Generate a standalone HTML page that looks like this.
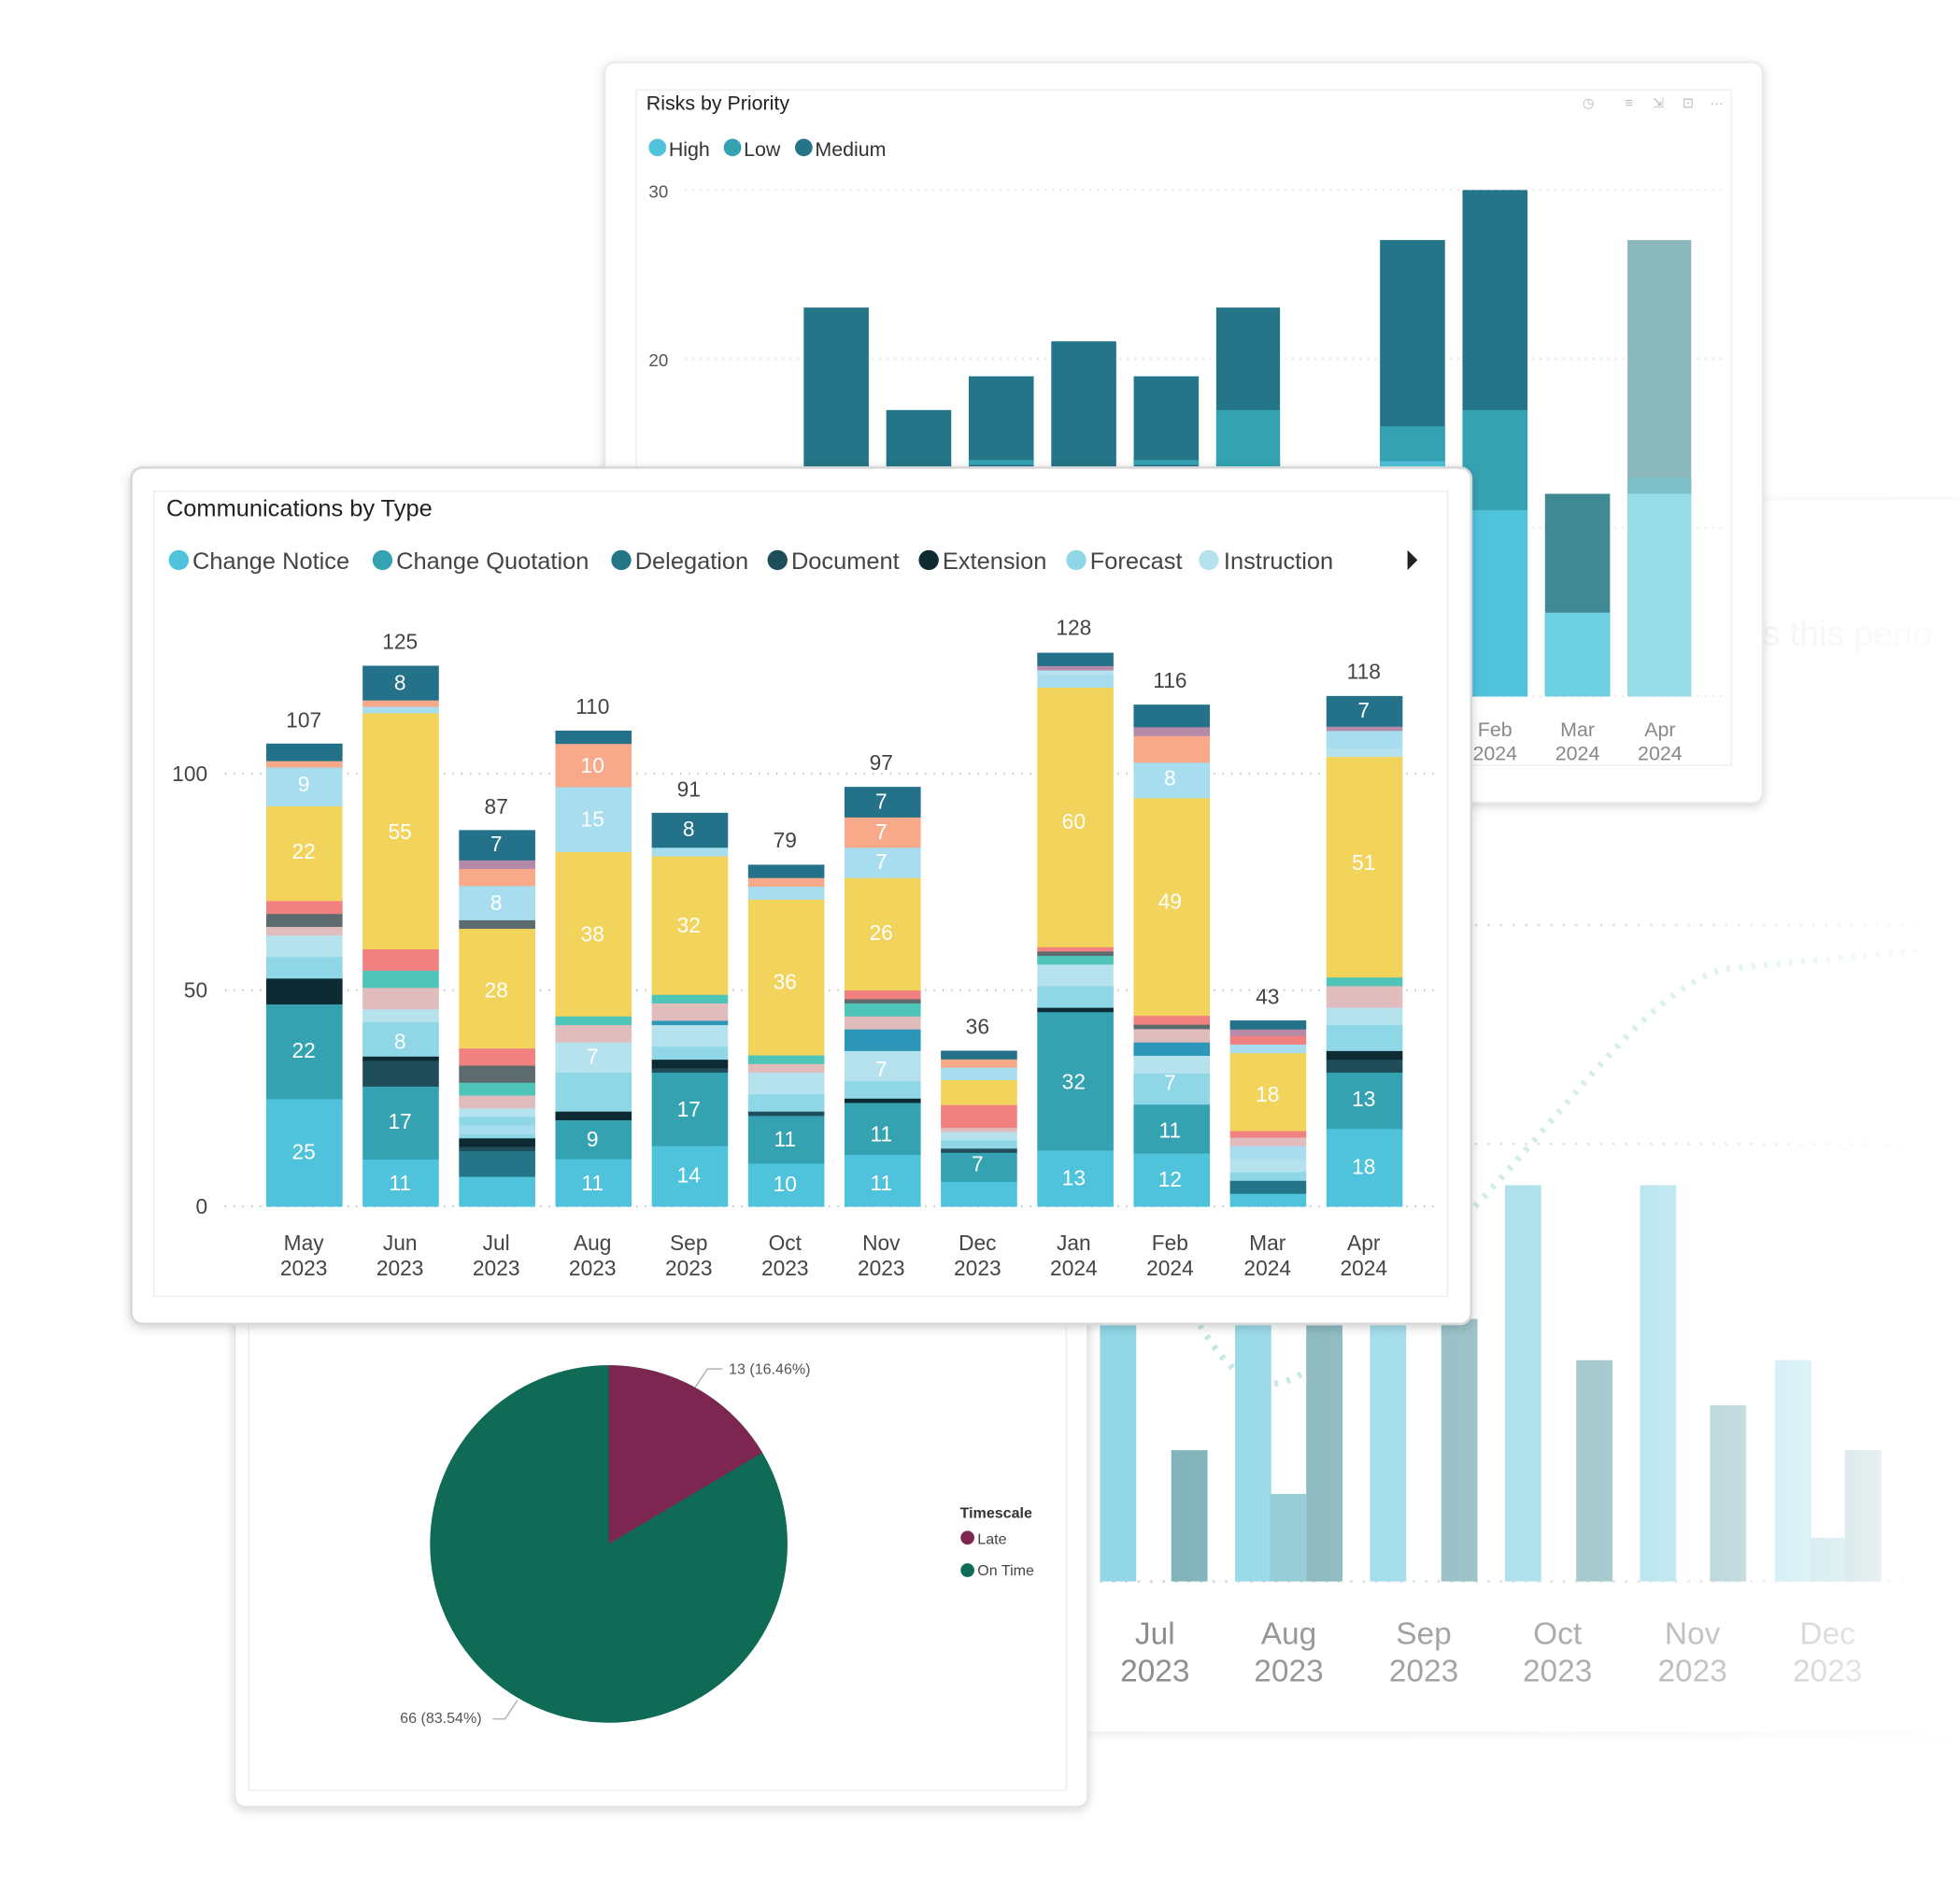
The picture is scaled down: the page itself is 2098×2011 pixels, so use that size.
<!DOCTYPE html>
<html><head><meta charset="utf-8"><style>
html,body{margin:0;padding:0;background:#fff;width:2098px;height:2011px;overflow:hidden}
svg{display:block}
text{font-family:"Liberation Sans",sans-serif}
</style></head><body>
<svg id="s" width="2098" height="2011" viewBox="0 0 1568 1503" xmlns="http://www.w3.org/2000/svg">
<defs>
<filter id="sh" x="-5%" y="-5%" width="110%" height="110%"><feDropShadow dx="0" dy="2" stdDeviation="4" flood-color="#000" flood-opacity="0.18"/></filter>
<linearGradient id="fade" x1="0" x2="1" y1="0" y2="0"><stop offset="0" stop-color="#fff" stop-opacity="0"/><stop offset="0.6" stop-color="#fff" stop-opacity="0.35"/><stop offset="1" stop-color="#fff" stop-opacity="0.95"/></linearGradient>
</defs>

<!-- faded lower-right chart -->
<g id="bg">
<rect x="870" y="400" width="700" height="985" fill="#fff" filter="url(#sh)" opacity="0.5"/>
<text x="1410" y="516" font-size="28" fill="#e4e4e4">s this perio</text>
<g stroke="#cfd6d8" stroke-dasharray="2 8" stroke-width="2">
<line x1="1180" y1="740" x2="1540" y2="740"/><line x1="1180" y1="915" x2="1540" y2="915"/><line x1="880" y1="1265" x2="1540" y2="1265"/>
</g>
<path d="M1180 965 C1260 880 1320 790 1380 775 L1540 760" stroke="#bfe6e2" stroke-width="5" stroke-dasharray="3 7" fill="none"/>
<path d="M960 1060 C990 1110 1020 1130 1075 1070" stroke="#bfe6e2" stroke-width="5" stroke-dasharray="3 7" fill="none"/>
<g>
<rect x="880" y="1060" width="29" height="205" fill="#8fd6e6"/>
<rect x="937" y="1160" width="29" height="105" fill="#7aafb6"/>
<rect x="988" y="1060" width="29" height="205" fill="#8fd6e6"/>
<rect x="1016" y="1195" width="29" height="70" fill="#86c6d0"/>
<rect x="1045" y="1060" width="29" height="205" fill="#7aafb6"/>
<rect x="1096" y="1060" width="29" height="205" fill="#8fd6e6"/>
<rect x="1153" y="1055" width="29" height="210" fill="#7aafb6"/>
<rect x="1204" y="948" width="29" height="317" fill="#8fd6e6"/>
<rect x="1261" y="1088" width="29" height="177" fill="#7aafb6"/>
<rect x="1312" y="948" width="29" height="317" fill="#8fd6e6"/>
<rect x="1368" y="1124" width="29" height="141" fill="#7aafb6"/>
<rect x="1420" y="1088" width="29" height="177" fill="#8fd6e6"/>
<rect x="1448" y="1230" width="29" height="35" fill="#86c6d0"/>
<rect x="1476" y="1160" width="29" height="105" fill="#7aafb6"/>
</g>
<g font-size="25" fill="#888" text-anchor="middle">
<text x="924" y="1315">Jul</text><text x="924" y="1345">2023</text>
<text x="1031" y="1315">Aug</text><text x="1031" y="1345">2023</text>
<text x="1139" y="1315">Sep</text><text x="1139" y="1345">2023</text>
<text x="1246" y="1315">Oct</text><text x="1246" y="1345">2023</text>
<text x="1354" y="1315">Nov</text><text x="1354" y="1345">2023</text>
<text x="1462" y="1315">Dec</text><text x="1462" y="1345">2023</text>
</g>
<rect x="870" y="400" width="700" height="1000" fill="url(#fade)"/>
</g>

<!-- Risks card -->
<rect x="484" y="50" width="926" height="592" rx="8" fill="#fff" stroke="#e6e6e6" filter="url(#sh)"/>
<rect x="509" y="72" width="876" height="540" fill="none" stroke="#eeeeee"/>
<text x="517" y="88" font-size="16" fill="#222">Risks by Priority</text>
<g font-size="11" fill="#bbb"><text x="1266" y="86">◷</text><text x="1300" y="86">≡</text><text x="1322" y="86">⇲</text><text x="1346" y="86">⊡</text><text x="1368" y="86">···</text></g>
<circle cx="526" cy="118" r="7" fill="#4fc3dc"/><text x="535" y="125" font-size="16" fill="#333">High</text>
<circle cx="586" cy="118" r="7" fill="#35a2b2"/><text x="595" y="125" font-size="16" fill="#333">Low</text>
<circle cx="643" cy="118" r="7" fill="#247587"/><text x="652" y="125" font-size="16" fill="#333">Medium</text>
<g stroke="#ccc" stroke-dasharray="1 5"><line x1="548" y1="152" x2="1380" y2="152"/><line x1="548" y1="287" x2="1380" y2="287"/><line x1="548" y1="422" x2="1380" y2="422"/><line x1="548" y1="557" x2="1380" y2="557"/></g>
<text x="519" y="158" font-size="14" fill="#555">30</text><text x="519" y="293" font-size="14" fill="#555">20</text>
<g>
<rect x="643" y="246" width="52" height="311" fill="#247587"/>
<rect x="709" y="328" width="52" height="229" fill="#247587"/>
<rect x="775" y="301" width="52" height="256" fill="#247587"/><rect x="775" y="368" width="52" height="4" fill="#35a2b2"/>
<rect x="841" y="273" width="52" height="284" fill="#247587"/>
<rect x="907" y="301" width="52" height="256" fill="#247587"/><rect x="907" y="368" width="52" height="4" fill="#35a2b2"/>
<rect x="973" y="246" width="51" height="311" fill="#247587"/><rect x="973" y="328" width="51" height="229" fill="#35a2b2"/>
<rect x="1104" y="192" width="52" height="365" fill="#247587"/><rect x="1104" y="341" width="52" height="216" fill="#35a2b2"/><rect x="1104" y="369" width="52" height="188" fill="#4fc3dc"/>
<rect x="1170" y="152" width="52" height="405" fill="#247587"/><rect x="1170" y="328" width="52" height="229" fill="#35a2b2"/><rect x="1170" y="408" width="52" height="149" fill="#4fc3dc"/>
<rect x="1236" y="395" width="52" height="162" fill="#3f8995"/><rect x="1236" y="490" width="52" height="67" fill="#6cd0e2"/>
<rect x="1302" y="192" width="51" height="365" fill="#8ab8bd"/><rect x="1302" y="382" width="51" height="13" fill="#7ebfc8"/><rect x="1302" y="395" width="51" height="162" fill="#96dde9"/>
</g>
<g font-size="16" fill="#888" text-anchor="middle">
<text x="1196" y="589">Feb</text><text x="1196" y="608">2024</text>
<text x="1262" y="589">Mar</text><text x="1262" y="608">2024</text>
<text x="1328" y="589">Apr</text><text x="1328" y="608">2024</text>
</g>

<!-- Pie card -->
<rect x="188" y="1040" width="682" height="405" rx="8" fill="#fff" stroke="#e0e0e0" filter="url(#sh)"/>
<rect x="199" y="1050" width="654" height="382" fill="none" stroke="#eeeeee"/>
<circle cx="487" cy="1235" r="143" fill="#0f6b55"/>
<path d="M487 1235 L487 1092 A143 143 0 0 1 609.9 1161.9 Z" fill="#7d2651"/>
<polyline points="556,1110 566,1095 578,1095" fill="none" stroke="#aaa"/>
<text x="583" y="1099" font-size="12" fill="#555">13 (16.46%)</text>
<polyline points="414,1360 404,1375 394,1375" fill="none" stroke="#aaa"/>
<text x="320" y="1378" font-size="12" fill="#555">66 (83.54%)</text>
<text x="768" y="1214" font-size="12" font-weight="bold" fill="#333">Timescale</text>
<circle cx="774" cy="1230" r="5.5" fill="#7d2651"/><text x="782" y="1235" font-size="12" fill="#444">Late</text>
<circle cx="774" cy="1256" r="5.5" fill="#0f6b55"/><text x="782" y="1260" font-size="12" fill="#444">On Time</text>

<!-- Main card -->
<rect x="105" y="374" width="1072" height="685" rx="9" fill="#fff" stroke="#d8d8d8" stroke-width="2" filter="url(#sh)"/>
<rect x="123" y="393" width="1035" height="644" fill="none" stroke="#ececec"/>
<text x="133" y="413" font-size="19" fill="#222">Communications by Type</text>
<g font-size="19" fill="#444">
<circle cx="143" cy="448" r="8" fill="#4fc3dc"/><text x="154" y="455">Change Notice</text>
<circle cx="306" cy="448" r="8" fill="#35a2b2"/><text x="317" y="455">Change Quotation</text>
<circle cx="497" cy="448" r="8" fill="#247587"/><text x="508" y="455">Delegation</text>
<circle cx="622" cy="448" r="8" fill="#1f4e5a"/><text x="633" y="455">Document</text>
<circle cx="743" cy="448" r="8" fill="#0e2a33"/><text x="754" y="455">Extension</text>
<circle cx="861" cy="448" r="8" fill="#8fd6e6"/><text x="872" y="455">Forecast</text>
<circle cx="967" cy="448" r="8" fill="#b6e2ee"/><text x="979" y="455">Instruction</text>
</g>
<path d="M1126 440 L1134 448 L1126 456 Z" fill="#222"/>
<g stroke="#bbb" stroke-dasharray="1 6" stroke-width="1.5"><line x1="180" y1="619" x2="1150" y2="619"/><line x1="180" y1="792" x2="1150" y2="792"/><line x1="180" y1="965" x2="1150" y2="965"/></g>
<g font-size="17" fill="#444" text-anchor="end"><text x="166" y="625">100</text><text x="166" y="798">50</text><text x="166" y="971">0</text></g>
<g id="bars"></g>
<g font-size="17" fill="#444" text-anchor="middle">
<text x="243" y="1000">May</text><text x="243" y="1020">2023</text>
<text x="320" y="1000">Jun</text><text x="320" y="1020">2023</text>
<text x="397" y="1000">Jul</text><text x="397" y="1020">2023</text>
<text x="474" y="1000">Aug</text><text x="474" y="1020">2023</text>
<text x="551" y="1000">Sep</text><text x="551" y="1020">2023</text>
<text x="628" y="1000">Oct</text><text x="628" y="1020">2023</text>
<text x="705" y="1000">Nov</text><text x="705" y="1020">2023</text>
<text x="782" y="1000">Dec</text><text x="782" y="1020">2023</text>
<text x="859" y="1000">Jan</text><text x="859" y="1020">2024</text>
<text x="936" y="1000">Feb</text><text x="936" y="1020">2024</text>
<text x="1014" y="1000">Mar</text><text x="1014" y="1020">2024</text>
<text x="1091" y="1000">Apr</text><text x="1091" y="1020">2024</text>
</g>
<g font-size="17" fill="#444" text-anchor="middle">
<text x="243" y="582">107</text><text x="320" y="519">125</text><text x="397" y="651">87</text><text x="474" y="571">110</text>
<text x="551" y="637">91</text><text x="628" y="678">79</text><text x="705" y="616">97</text><text x="782" y="827">36</text>
<text x="859" y="508">128</text><text x="936" y="550">116</text><text x="1014" y="803">43</text><text x="1091" y="543">118</text>
</g>
<g font-size="17" fill="#fff" text-anchor="middle">
<text x="243" y="633">9</text><text x="243" y="687">22</text><text x="243" y="846">22</text><text x="243" y="927">25</text>
<text x="320" y="552">8</text><text x="320" y="671">55</text><text x="320" y="839">8</text><text x="320" y="903">17</text><text x="320" y="952">11</text>
<text x="397" y="681">7</text><text x="397" y="728">8</text><text x="397" y="798">28</text>
<text x="474" y="618">10</text><text x="474" y="661">15</text><text x="474" y="753">38</text><text x="474" y="851">7</text><text x="474" y="917">9</text><text x="474" y="952">11</text>
<text x="551" y="669">8</text><text x="551" y="746">32</text><text x="551" y="893">17</text><text x="551" y="946">14</text>
<text x="628" y="791">36</text><text x="628" y="917">11</text><text x="628" y="953">10</text>
<text x="705" y="647">7</text><text x="705" y="671">7</text><text x="705" y="695">7</text><text x="705" y="752">26</text><text x="705" y="861">7</text><text x="705" y="913">11</text><text x="705" y="952">11</text>
<text x="782" y="937">7</text>
<text x="859" y="663">60</text><text x="859" y="871">32</text><text x="859" y="948">13</text>
<text x="936" y="628">8</text><text x="936" y="727">49</text><text x="936" y="872">7</text><text x="936" y="910">11</text><text x="936" y="949">12</text>
<text x="1014" y="881">18</text>
<text x="1091" y="574">7</text><text x="1091" y="696">51</text><text x="1091" y="885">13</text><text x="1091" y="939">18</text>
</g>
<script>
(function(){
var C={cn:"#4fc3dc",cq:"#35a2b2",dl:"#247587",dc:"#1f4e5a",ex:"#0e2a33",fc:"#8fd6e6",in:"#b6e2ee",ye:"#f2d35b",lb:"#a7ddef",pe:"#f7a98a",sa:"#f18080",pk:"#e0bcbc",tg:"#4fc4b8",gr:"#5e6b6e",ma:"#b58aa8",tp:"#23728a",mb:"#2e96b8"};
var D=[
[107,[["cn",25],["cq",22],["ex",6],["fc",5],["in",5],["pk",2],["gr",3],["sa",3],["ye",22],["lb",9],["pe",1.5],["tp",4]]],
[125,[["cn",11],["cq",17],["dc",6],["ex",1],["fc",8],["in",3],["pk",5],["tg",4],["sa",5],["ye",55],["lb",1.5],["pe",1.5],["tp",8]]],
[87,[["cn",7],["dl",6],["dc",1],["ex",2],["fc",1],["lb",2],["fc",2],["in",2],["pk",3],["tg",3],["gr",4],["sa",4],["ye",28],["gr",2],["lb",8],["pe",4],["ma",2],["tp",7]]],
[110,[["cn",11],["cq",9],["ex",2],["fc",5],["fc",4],["in",7],["pk",4],["tg",2],["ye",38],["lb",15],["pe",10],["tp",3]]],
[91,[["cn",14],["cq",17],["dc",1],["ex",2],["fc",3],["in",5],["mb",1],["pk",4],["tg",2],["ye",32],["lb",2],["tp",8]]],
[79,[["cn",10],["cq",11],["dc",1],["fc",4],["in",5],["pk",2],["tg",2],["ye",36],["lb",3],["pe",2],["tp",3]]],
[97,[["cn",12],["cq",12],["ex",1],["fc",4],["in",7],["mb",5],["pk",3],["tg",3],["gr",1],["sa",2],["ye",26],["lb",7],["pe",7],["tp",7]]],
[36,[["cn",6],["cq",7],["dc",1],["fc",2],["in",2],["pk",1],["sa",1.5],["sa",4],["ye",6],["lb",3],["pe",2],["tp",2]]],
[128,[["cn",13],["cq",32],["ex",1],["fc",5],["in",5],["tg",2],["gr",1],["sa",1],["ye",60],["lb",3],["in",1],["ma",1],["tp",3]]],
[116,[["cn",12],["cq",11],["fc",7],["in",4],["mb",3],["pk",3],["gr",1],["sa",2],["ye",49],["lb",8],["pe",6],["ma",2],["tp",5]]],
[43,[["cn",3],["dl",3],["fc",2],["in",3],["lb",3],["pk",2],["sa",1.5],["ye",18],["lb",2],["sa",2],["ma",1.5],["tp",2]]],
[118,[["cn",18],["cq",13],["dc",3],["ex",2],["fc",6],["in",4],["pk",5],["tg",2],["ye",51],["in",2],["lb",4],["ma",1],["tp",7]]]
];
var g=document.getElementById("bars"),ns="http://www.w3.org/2000/svg",k=3.46,y0=965;
D.forEach(function(b,i){
 var x=213+i*77.1,s=0;b[1].forEach(function(p){s+=p[1];});
 var f=b[0]/s,y=y0;
 b[1].forEach(function(p){var h=p[1]*f*k;var r=document.createElementNS(ns,"rect");
  r.setAttribute("x",x);r.setAttribute("y",y-h);r.setAttribute("width",61);r.setAttribute("height",h+0.3);r.setAttribute("fill",C[p[0]]);g.appendChild(r);y-=h;});
});
})();
</script>
</svg>
</body></html>
